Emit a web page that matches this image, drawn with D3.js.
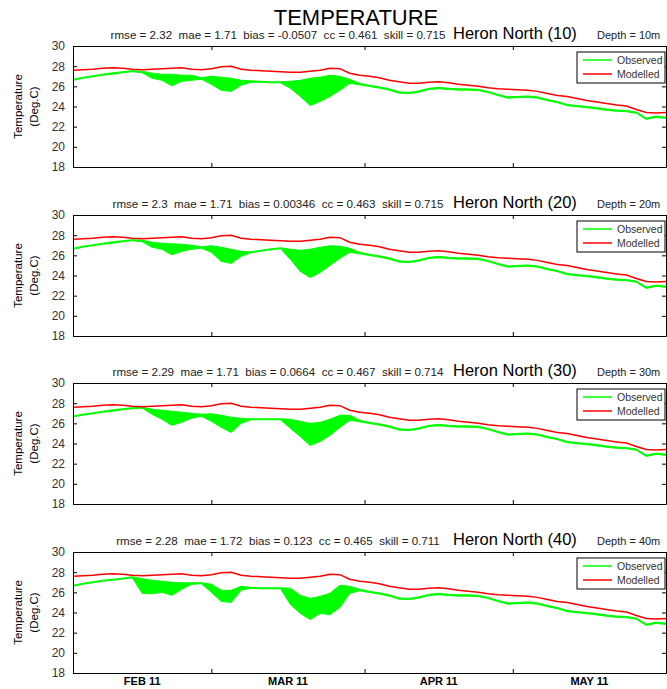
<!DOCTYPE html>
<html>
<head>
<meta charset="utf-8">
<script src="https://cdn.jsdelivr.net/npm/d3@7"></script>
<style>
  body { margin: 0; background: #fff; }
  svg { font-family: "Liberation Sans", Arial, sans-serif; }
</style>
</head>
<body>
<div id="chart"></div>
<script>
// Observed vs modelled temperature at Heron North, 4 depths, Feb-May 2011

// sample days (offset from 1 Feb 2011), every 2 days
var days = d3.range(0, 121, 2);

var siteNames = ["Heron North (10)", "Heron North (20)", "Heron North (30)", "Heron North (40)"];
var depths = ["10m", "20m", "30m", "40m"];
var rmse = ["2.32", "2.3", "2.29", "2.28"];
var mae = ["1.71", "1.71", "1.71", "1.72"];
var bias = ["-0.0507", "0.00346", "0.0664", "0.123"];
var cc = ["0.461", "0.463", "0.467", "0.465"];
var skill = ["0.715", "0.715", "0.714", "0.711"];

var yTicks = [18, 20, 22, 24, 26, 28, 30];
var monthLabels = ["FEB 11", "MAR 11", "APR 11", "MAY 11"];

// modelled (red), nearly identical at every depth
var modelled = [27.6, 27.65, 27.7, 27.8, 27.85, 27.8, 27.7, 27.65, 27.7, 27.75,
  27.8, 27.85, 27.7, 27.65, 27.75, 27.95, 28.0, 27.7, 27.6, 27.55,
  27.5, 27.45, 27.4, 27.4, 27.5, 27.6, 27.8, 27.75, 27.3, 27.1,
  27.0, 26.85, 26.6, 26.45, 26.3, 26.3, 26.4, 26.45, 26.35, 26.2,
  26.1, 26.0, 25.85, 25.75, 25.7, 25.65, 25.6, 25.5, 25.3, 25.1,
  25.0, 24.8, 24.6, 24.45, 24.3, 24.15, 24.05, 23.7, 23.4, 23.35, 23.4];

// observed (green) upper / lower envelope, days 0-58, one pair per depth
var obsHi10 = [26.7, 26.9, 27.05, 27.2, 27.35, 27.45, 27.55, 27.5, 27.3, 27.2,
  27.2, 27.1, 27.1, 26.85, 27.0, 26.9, 26.8, 26.6, 26.55, 26.5,
  26.45, 26.45, 26.5, 26.6, 26.8, 26.9, 27.1, 27.0, 26.7, 26.3];
var obsLo10 = [26.6, 26.8, 26.95, 27.1, 27.2, 27.35, 27.45, 27.35, 26.8, 26.6,
  26.05, 26.5, 26.6, 26.7, 26.2, 25.6, 25.5, 26.1, 26.4, 26.4,
  26.35, 26.35, 25.8, 25.0, 24.1, 24.5, 25.0, 25.6, 26.3, 26.15];
var obsHi20 = [26.7, 26.9, 27.05, 27.2, 27.35, 27.45, 27.55, 27.5, 27.3, 27.2,
  27.15, 27.1, 27.0, 26.85, 26.95, 26.8, 26.6, 26.4, 26.35, 26.5,
  26.65, 26.75, 26.6, 26.5, 26.6, 26.8, 26.95, 26.9, 26.7, 26.3];
var obsLo20 = [26.6, 26.8, 26.95, 27.1, 27.2, 27.35, 27.45, 27.35, 26.8, 26.6,
  26.05, 26.4, 26.6, 26.7, 26.3, 25.4, 25.2, 25.9, 26.25, 26.4,
  26.55, 26.65, 25.6, 24.4, 23.8, 24.3, 25.0, 25.7, 26.3, 26.15];
var obsHi30 = [26.75, 26.9, 27.05, 27.2, 27.35, 27.45, 27.55, 27.6, 27.4, 27.3,
  27.2, 27.1, 27.0, 26.9, 26.95, 26.8, 26.6, 26.5, 26.45, 26.45,
  26.45, 26.45, 26.4, 26.2, 26.0, 26.1, 26.4, 26.8, 26.8, 26.3];
var obsLo30 = [26.65, 26.8, 26.95, 27.1, 27.2, 27.35, 27.45, 27.5, 26.9, 26.4,
  25.8, 26.1, 26.5, 26.7, 26.2, 25.6, 25.1, 26.0, 26.35, 26.35,
  26.35, 26.35, 25.5, 24.7, 23.8, 24.2, 24.8, 25.6, 26.3, 26.15];
var obsHi40 = [26.7, 26.9, 27.05, 27.2, 27.3, 27.4, 27.55, 27.35, 27.2, 27.1,
  27.0, 26.95, 26.95, 26.95, 26.8, 26.2, 26.2, 26.6, 26.5, 26.45,
  26.45, 26.45, 26.4, 25.7, 25.4, 25.6, 25.9, 26.7, 26.6, 26.3];
var obsLo40 = [26.6, 26.8, 26.95, 27.1, 27.2, 27.3, 27.45, 25.9, 25.85, 26.0,
  25.7, 26.3, 26.8, 26.85, 26.0, 25.1, 25.0, 26.2, 26.4, 26.35,
  26.35, 26.35, 24.8, 23.9, 23.3, 23.9, 23.8, 24.5, 25.9, 26.15];

// observed envelope days 60-120, same at all depths
var obsTailHi = [26.1, 25.95, 25.75, 25.45, 25.4, 25.55, 25.8, 25.9, 25.8, 25.75,
  25.75, 25.7, 25.5, 25.2, 24.95, 25.0, 25.05, 24.95, 24.7, 24.5,
  24.2, 24.1, 24.0, 23.9, 23.75, 23.65, 23.6, 23.45, 22.85, 23.05, 22.95];
var obsTailLo = [25.98, 25.82, 25.62, 25.32, 25.28, 25.42, 25.68, 25.76, 25.68, 25.62,
  25.62, 25.58, 25.38, 25.08, 24.82, 24.88, 24.92, 24.82, 24.58, 24.38,
  24.08, 23.98, 23.88, 23.76, 23.62, 23.52, 23.48, 23.32, 22.72, 22.92, 22.82];

var obsHi = [obsHi10, obsHi20, obsHi30, obsHi40];
var obsLo = [obsLo10, obsLo20, obsLo30, obsLo40];

var svgWidth = 667;
var svgHeight = 689;
var plotLeft = 73;
var plotRight = 666;
var firstTop = 46;
var panelStep = 168.7;
var panelHeight = 121;

var svg = d3.select("#chart")
  .append("svg")
  .attr("width", svgWidth)
  .attr("height", svgHeight);

var start = new Date(Date.UTC(2011, 1, 1));
var end = new Date(Date.UTC(2011, 5, 1));
var xScale = d3.scaleUtc().domain([start, end]).range([plotLeft, plotRight]);
var yScale = d3.scaleLinear().domain([18, 30]).range([panelHeight, 0]);
var monthTicks = d3.utcMonth.range(start, d3.utcDay.offset(end, 1));

function dayDate(d) {
  return new Date(Date.UTC(2011, 1, 1 + d));
}

svg.append("text")
  .attr("x", 356)
  .attr("y", 25)
  .attr("text-anchor", "middle")
  .style("font-size", "22px")
  .text("TEMPERATURE");

for (var i = 0; i < 4; i++) {
  var panelTop = Math.round(firstTop + i * panelStep);
  var g = svg.append("g").attr("transform", "translate(0," + panelTop + ")");

  var hi = obsHi[i].concat(obsTailHi);
  var lo = obsLo[i].concat(obsTailLo);
  var rows = days.map(function(d, k) {
    return { date: dayDate(d), hi: hi[k], lo: lo[k], mod: modelled[k] };
  });

  g.append("clipPath").attr("id", "clip" + i)
    .append("rect")
    .attr("x", plotLeft).attr("y", 0)
    .attr("width", plotRight - plotLeft).attr("height", panelHeight);

  var plot = g.append("g").attr("clip-path", "url(#clip" + i + ")");

  var obsArea = d3.area()
    .x(function(r) { return xScale(r.date); })
    .y0(function(r) { return yScale(r.lo); })
    .y1(function(r) { return yScale(r.hi); });

  plot.append("path")
    .datum(rows)
    .attr("d", obsArea)
    .attr("fill", "#00ff00")
    .attr("stroke", "#00ff00")
    .attr("stroke-width", 1);

  var modLine = d3.line()
    .x(function(r) { return xScale(r.date); })
    .y(function(r) { return yScale(r.mod); });

  plot.append("path")
    .datum(rows)
    .attr("d", modLine)
    .attr("fill", "none")
    .attr("stroke", "#ff0000")
    .attr("stroke-width", 1.5);

  // axes, ticks pointing inward
  var leftAxis = d3.axisLeft(yScale).tickValues(yTicks).tickSize(-4).tickSizeOuter(0).tickPadding(8);
  var rightAxis = d3.axisRight(yScale).tickValues(yTicks).tickSize(-4).tickSizeOuter(0).tickFormat("");
  var topAxis = d3.axisTop(xScale).tickValues(monthTicks).tickSize(-4).tickSizeOuter(0).tickFormat("");
  var bottomAxis = d3.axisBottom(xScale).tickValues(monthTicks).tickSize(-4).tickSizeOuter(0).tickFormat("");

  var ly = g.append("g").attr("transform", "translate(" + plotLeft + ",0)").call(leftAxis);
  g.append("g").attr("transform", "translate(" + plotRight + ",0)").call(rightAxis);
  g.append("g").call(topAxis);
  g.append("g").attr("transform", "translate(0," + panelHeight + ")").call(bottomAxis);

  g.selectAll(".domain, .tick line").attr("stroke", "#000");
  ly.selectAll("text")
    .style("font-size", "12px")
    .style("font-family", "'Liberation Sans', Arial, sans-serif")
    .attr("fill", "#333");

  // y label
  g.append("text")
    .attr("transform", "translate(18," + (panelHeight / 2) + ") rotate(-90)")
    .attr("text-anchor", "middle")
    .attr("dy", "0.35em")
    .style("font-size", "11.5px")
    .text("Temperature");
  g.append("text")
    .attr("transform", "translate(34," + (panelHeight / 2) + ") rotate(-90)")
    .attr("text-anchor", "middle")
    .attr("dy", "0.35em")
    .style("font-size", "11.5px")
    .text("(Deg.C)");

  // header line
  g.append("text")
    .attr("x", 278)
    .attr("y", -7)
    .attr("text-anchor", "middle")
    .style("font-size", "11.6px")
    .style("white-space", "pre")
    .attr("fill", "#222")
    .text("rmse = " + rmse[i] + "  mae = " + mae[i] + "  bias = " + bias[i] +
      "  cc = " + cc[i] + "  skill = " + skill[i]);
  g.append("text")
    .attr("x", 453)
    .attr("y", -7)
    .style("font-size", "16.5px")
    .text(siteNames[i]);
  g.append("text")
    .attr("x", 597)
    .attr("y", -7)
    .style("font-size", "11px")
    .attr("fill", "#222")
    .text("Depth = " + depths[i]);

  // legend
  var legend = g.append("g");
  legend.append("rect")
    .attr("x", 577).attr("y", 6)
    .attr("width", 88).attr("height", 31)
    .attr("fill", "#fff").attr("stroke", "#000");
  [["Observed", "#00ff00"], ["Modelled", "#ff0000"]].forEach(function(item, k) {
    var ry = 14 + k * 14;
    legend.append("line")
      .attr("x1", 583).attr("x2", 612)
      .attr("y1", ry).attr("y2", ry)
      .attr("stroke", item[1]).attr("stroke-width", 1.5);
    legend.append("text")
      .attr("x", 617).attr("y", ry + 4)
      .style("font-size", "10.5px")
      .attr("fill", "#333")
      .text(item[0]);
  });

  // month labels on the last panel only
  if (i === 3) {
    monthLabels.forEach(function(lab, k) {
      var cx = (xScale(monthTicks[k]) + xScale(monthTicks[k + 1])) / 2;
      g.append("text")
        .attr("x", cx)
        .attr("y", panelHeight + 12)
        .attr("text-anchor", "middle")
        .style("font-size", "11px")
        .style("font-weight", "bold")
        .text(lab);
    });
  }
}
</script>
</body>
</html>
